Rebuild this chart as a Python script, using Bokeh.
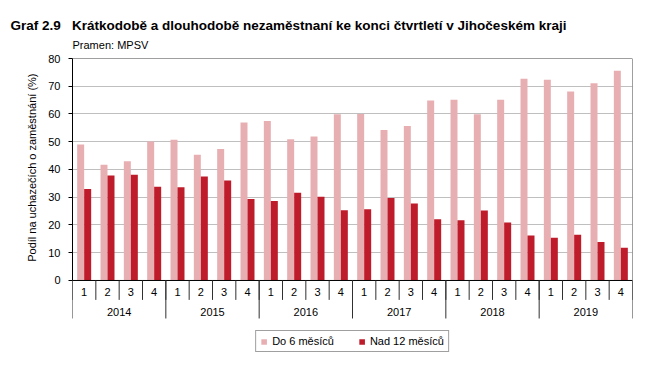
from bokeh.plotting import figure
from bokeh.models import Range1d, FixedTicker, Legend, LegendItem, Title, ColumnDataSource
from bokeh.core.properties import value
from bokeh.embed import file_html
from bokeh.resources import INLINE

# ---- data ----
years = ["2014", "2015", "2016", "2017", "2018", "2019"]
quarters = ["1", "2", "3", "4"]
short_term = [49.0, 41.7, 43.0, 50.1,
              50.7, 45.3, 47.4, 56.9,
              57.5, 50.9, 51.9, 59.9,
              60.0, 54.2, 55.7, 64.9,
              65.1, 59.9, 65.1, 72.7,
              72.3, 68.1, 71.1, 75.6]
long_term = [33.0, 37.8, 38.1, 33.8,
             33.6, 37.5, 36.0, 29.4,
             28.6, 31.6, 30.2, 25.3,
             25.7, 29.7, 27.7, 22.1,
             21.7, 25.2, 20.9, 16.2,
             15.4, 16.5, 13.9, 11.8]
y_ticks = [0, 10, 20, 30, 40, 50, 60, 70, 80]
series_names = ["Do 6 měsíců", "Nad 12 měsíců"]

LIGHT = "#E8AFB3"
DARK = "#BE1C2A"
FONT = "Liberation Sans"

n = len(short_term)
nq = len(quarters)
slot_centers = [i + 0.5 for i in range(n)]
q_labels = [quarters[i % nq] for i in range(n)]
y_min, y_max = y_ticks[0], y_ticks[-1]

p = figure(width=662, height=372,
           x_range=Range1d(0, n), y_range=Range1d(-27.4, y_max),
           output_backend="svg", toolbar_location=None, x_axis_location=None,
           min_border_left=72, min_border_right=30, min_border_top=58, min_border_bottom=16)
p.outline_line_color = None
p.background_fill_color = "white"
p.border_fill_color = "white"

# grid
p.xgrid.visible = False
p.ygrid.ticker = FixedTicker(ticks=y_ticks)
p.ygrid.grid_line_color = "#BFBFBF"
p.ygrid.grid_line_width = 1

# y axis
ax = p.yaxis[0]
ax.ticker = FixedTicker(ticks=y_ticks)
ax.bounds = (y_min, y_max)
ax.axis_line_color = "black"
ax.major_tick_line_color = "black"
ax.major_tick_in = 0
ax.major_tick_out = 4
ax.minor_tick_line_color = None
ax.major_label_standoff = 8
ax.major_label_text_font = FONT
ax.major_label_text_font_size = "11px"
ax.major_label_text_color = "black"

# bars
src = ColumnDataSource(dict(
    xl=[c - 0.15 for c in slot_centers],
    xd=[c + 0.15 for c in slot_centers],
    s=short_term, l=long_term))
r1 = p.vbar(x="xl", top="s", bottom=0, width=0.3, source=src, fill_color=LIGHT, line_color=None)
r2 = p.vbar(x="xd", top="l", bottom=0, width=0.3, source=src, fill_color=DARK, line_color=None)

# frame lines (top, right, bottom axis)
p.segment(x0=[0, n, 0], y0=[y_max, 0, 0], x1=[n, n, n], y1=[y_max, y_max, 0],
          line_color=["#404040", "#404040", "black"], line_width=1)

# category axis: separators
q_bounds = list(range(0, n + 1))
y_bounds = list(range(0, n + 1, nq))
p.segment(x0=q_bounds, y0=[0] * len(q_bounds), x1=q_bounds, y1=[-7.0] * len(q_bounds),
          line_color="#303030", line_width=1)
p.segment(x0=y_bounds, y0=[0] * len(y_bounds), x1=y_bounds, y1=[-13.7] * len(y_bounds),
          line_color="#303030", line_width=1)

# quarter and year labels
p.text(x=slot_centers, y=[-4.3] * n, text=q_labels, text_align="center", text_baseline="middle",
       text_font=value(FONT), text_font_size="11px", text_color="black")
year_centers = [i * nq + nq / 2 for i in range(len(years))]
p.text(x=year_centers, y=[-11.2] * len(years), text=years, text_align="center",
       text_baseline="middle", text_font=value(FONT), text_font_size="11px", text_color="black")

# legend
legend = Legend(items=[LegendItem(label=series_names[0], renderers=[r1]),
                       LegendItem(label=series_names[1], renderers=[r2])],
                orientation="horizontal", location="bottom_center",
                border_line_color="#404040", border_line_width=1,
                padding=4, spacing=24, glyph_width=7, glyph_height=7, label_standoff=5,
                label_height=12, label_text_font=FONT, label_text_font_size="11px",
                label_text_color="black", margin=4)
p.add_layout(legend, "center")

# y axis title
p.add_layout(Title(text="Podíl na uchazečích o zaměstnání (%)", align="right", offset=15,
                   text_font=FONT, text_font_size="11px", text_font_style="normal",
                   text_color="black", standoff=16), "left")

# titles
p.add_layout(Title(text="Pramen: MPSV", align="left", offset=0, text_font=FONT,
                   text_font_size="11px", text_font_style="normal", text_color="black",
                   standoff=15), "above")
p.add_layout(Title(text="Graf 2.9\u00a0\u00a0\u00a0Krátkodobě a dlouhodobě nezaměstnaní ke konci čtvrtletí v Jihočeském kraji",
                   align="left", offset=-62, text_font=FONT, text_font_size="13.5px",
                   text_font_style="bold", text_color="black", standoff=-7), "above")

open("out.html", "w").write(file_html(p, INLINE))
